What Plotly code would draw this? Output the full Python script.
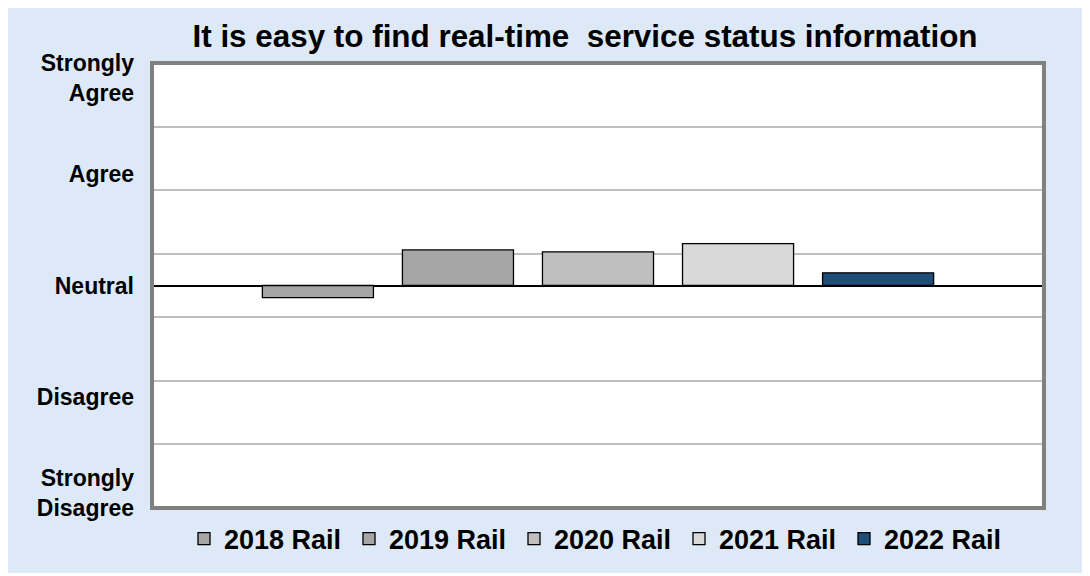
import plotly.graph_objects as go

# ---- data ----
category = ["Rail"]
series_names = ["2018 Rail", "2019 Rail", "2020 Rail", "2021 Rail", "2022 Rail"]
series_values = [-0.19, 0.56, 0.53, 0.66, 0.20]
series_colors = ["#a6a6a6", "#a6a6a6", "#bfbfbf", "#d9d9d9", "#1f4e79"]
scale_labels = ["Strongly<br>Agree", "Agree", "Neutral", "Disagree", "Strongly<br>Disagree"]
scale_positions = [3.27, 1.75, 0, -1.75, -3.27]
grid_positions = [-2.5, -1.5, -0.5, 0.5, 1.5, 2.5]
title_text = "It is easy to find real-time\u00a0 service status information"

# ---- layout geometry (page pixels; the page body adds an 8px offset) ----
OFF = 8
W, H = 1090 - OFF, 576 - OFF
PLOT_L, PLOT_R, PLOT_T, PLOT_B = 152, 1044, 63, 508
L = PLOT_L - OFF
T = PLOT_T - OFF
R = W - (PLOT_R - OFF)
B = H - (PLOT_B - OFF)
FONT = "Liberation Sans, Arial, sans-serif"
BG = "#dde9f6"


def px_x(px):
    return (px - OFF - L) / (W - L - R)


def px_y(py):
    return (H - B - (py - OFF)) / (H - T - B)


fig = go.Figure()
for name, val, col in zip(series_names, series_values, series_colors):
    fig.add_trace(go.Bar(
        x=category, y=[val], name=name,
        marker=dict(color=col, line=dict(color="black", width=1.3)),
        hoverinfo="skip",
    ))

fig.update_layout(
    width=W, height=H,
    margin=dict(l=L, r=R, t=T, b=B, pad=0),
    paper_bgcolor="white",
    plot_bgcolor="white",
    barmode="group",
    bargap=0.215,
    bargroupgap=0.207,
    font=dict(family=FONT, color="black"),
    title=dict(
        text=title_text,
        font=dict(family=FONT, size=31.4, color="black", weight="bold"),
        xref="container", x=(585 - OFF) / W, xanchor="center",
        yref="container", y=1 - (36.5 - OFF) / H, yanchor="middle",
    ),
    legend=dict(
        orientation="h",
        x=px_x(184), xanchor="left",
        y=px_y(539), yanchor="middle",
        font=dict(family=FONT, size=27, color="black", weight="bold"),
        bgcolor="rgba(0,0,0,0)",
        entrywidth=120,
        traceorder="normal",
    ),
    xaxis=dict(
        showticklabels=False, showgrid=False, zeroline=False,
        showline=False, ticks="", fixedrange=True,
    ),
    yaxis=dict(
        range=[-3.5, 3.5],
        tickmode="array",
        tickvals=scale_positions,
        ticktext=scale_labels,
        showgrid=False,
        zeroline=True, zerolinecolor="black", zerolinewidth=2,
        minor=dict(tickmode="array", tickvals=grid_positions, showgrid=True,
                   gridcolor="#bfbfbf", gridwidth=1.5, ticks=""),
        ticks="",
        ticklabelstandoff=17,
        tickfont=dict(family=FONT, size=23, color="black", weight="bold"),
        showline=False,
        fixedrange=True,
    ),
    shapes=[
        dict(type="rect", xref="paper", yref="paper",
             x0=px_x(OFF), x1=px_x(1086), y0=px_y(573), y1=px_y(OFF),
             fillcolor=BG, line=dict(width=0), layer="below"),
        dict(type="rect", xref="paper", yref="paper",
             x0=0, x1=1, y0=0, y1=1,
             fillcolor="white", line=dict(width=0), layer="below"),
        dict(type="rect", xref="paper", yref="paper",
             x0=0, x1=1, y0=0, y1=1,
             line=dict(color="#808080", width=4), layer="above"),
    ],
)

fig.write_html("out.html")
